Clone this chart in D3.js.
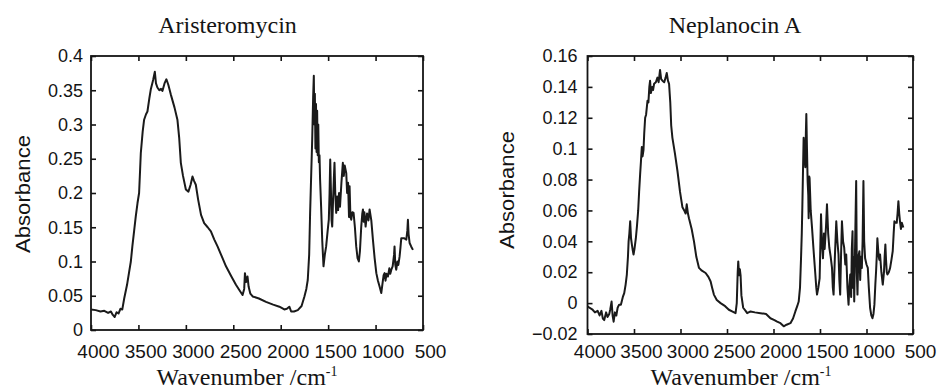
<!DOCTYPE html>
<html>
<head>
<meta charset="utf-8">
<script src="https://cdn.jsdelivr.net/npm/d3@7"></script>
<style>
  html, body { margin: 0; padding: 0; background: #fff; }
  svg { display: block; }
</style>
</head>
<body>
<svg id="chart" width="937" height="389"></svg>
<script>
// ---------------- DATA ----------------
const xTicks = [4000, 3500, 3000, 2500, 2000, 1500, 1000, 500];
const yTicksA = [0, 0.05, 0.1, 0.15, 0.2, 0.25, 0.3, 0.35, 0.4];
const yTicksB = [-0.02, 0, 0.02, 0.04, 0.06, 0.08, 0.1, 0.12, 0.14, 0.16];
const titleA = "Aristeromycin";
const titleB = "Neplanocin A";

// Aristeromycin spectrum: [wavenumber, absorbance]
const aristeromycin = [
[4000,0.030],[3950,0.029],[3900,0.027],[3860,0.028],[3820,0.025],[3790,0.027],[3770,0.022],[3750,0.019],
[3730,0.026],[3710,0.024],[3690,0.031],[3670,0.030],[3650,0.046],[3620,0.066],[3600,0.083],[3580,0.100],
[3564,0.122],[3545,0.145],[3528,0.166],[3510,0.185],[3493,0.200],[3482,0.235],[3475,0.258],[3455,0.290],
[3440,0.307],[3420,0.315],[3405,0.319],[3385,0.338],[3370,0.351],[3345,0.365],[3327,0.377],[3315,0.360],
[3300,0.354],[3280,0.350],[3262,0.352],[3247,0.349],[3225,0.360],[3205,0.366],[3185,0.358],[3159,0.344],
[3120,0.325],[3089,0.307],[3070,0.280],[3053,0.244],[3030,0.225],[3000,0.205],[2973,0.202],[2950,0.212],
[2930,0.224],[2915,0.218],[2895,0.212],[2870,0.190],[2840,0.168],[2807,0.156],[2770,0.150],[2736,0.144],
[2700,0.132],[2666,0.122],[2620,0.107],[2577,0.093],[2520,0.078],[2472,0.066],[2430,0.057],[2402,0.051],
[2385,0.060],[2377,0.083],[2365,0.070],[2350,0.078],[2338,0.063],[2320,0.053],[2296,0.049],[2230,0.046],
[2155,0.041],[2080,0.037],[2014,0.034],[1962,0.030],[1935,0.031],[1909,0.034],[1890,0.027],[1860,0.027],
[1820,0.029],[1780,0.035],[1750,0.049],[1730,0.060],[1715,0.073],[1700,0.110],[1690,0.171],[1678,0.230],
[1668,0.278],[1658,0.340],[1651,0.371],[1645,0.300],[1640,0.345],[1634,0.265],[1628,0.330],[1622,0.260],
[1616,0.320],[1610,0.255],[1604,0.300],[1598,0.245],[1591,0.255],[1585,0.220],[1574,0.180],[1562,0.130],
[1549,0.093],[1535,0.110],[1521,0.122],[1505,0.145],[1493,0.161],[1485,0.200],[1478,0.249],[1470,0.200],
[1464,0.160],[1457,0.151],[1448,0.190],[1440,0.220],[1433,0.244],[1425,0.200],[1415,0.171],[1405,0.195],
[1395,0.175],[1385,0.200],[1375,0.180],[1360,0.215],[1345,0.244],[1335,0.225],[1325,0.240],[1309,0.229],
[1300,0.200],[1290,0.215],[1280,0.165],[1274,0.210],[1265,0.165],[1256,0.161],[1245,0.172],[1232,0.171],
[1218,0.150],[1204,0.122],[1190,0.105],[1176,0.100],[1165,0.115],[1151,0.151],[1140,0.170],[1133,0.176],
[1125,0.158],[1118,0.172],[1105,0.151],[1090,0.170],[1075,0.160],[1063,0.176],[1045,0.160],[1028,0.132],
[1010,0.105],[992,0.083],[975,0.072],[957,0.063],[940,0.054],[925,0.070],[915,0.080],[905,0.083],
[895,0.072],[885,0.082],[870,0.078],[855,0.090],[845,0.082],[834,0.088],[820,0.093],[805,0.110],
[800,0.122],[792,0.095],[782,0.088],[770,0.100],[760,0.095],[747,0.107],[738,0.120],[729,0.134],
[700,0.134],[676,0.132],[665,0.145],[659,0.161],[652,0.140],[641,0.127],[625,0.122],[606,0.117]
];

// Neplanocin A spectrum: [wavenumber, absorbance]
const neplanocin = [
[4000,-0.002],[3980,-0.003],[3950,-0.004],[3920,-0.006],[3891,-0.005],[3870,-0.008],[3850,-0.005],[3835,-0.010],
[3820,-0.011],[3800,-0.006],[3785,-0.009],[3766,-0.007],[3755,-0.004],[3741,0.001],[3730,-0.008],[3719,-0.012],
[3705,-0.006],[3690,-0.008],[3676,-0.003],[3660,-0.001],[3641,-0.001],[3620,0.004],[3605,0.0065],[3590,0.012],
[3577,0.0185],[3565,0.030],[3558,0.040],[3550,0.045],[3541,0.053],[3532,0.042],[3523,0.038],[3513,0.034],
[3505,0.0315],[3495,0.035],[3480,0.042],[3468,0.050],[3455,0.060],[3445,0.072],[3434,0.0835],[3425,0.092],
[3416,0.101],[3408,0.095],[3398,0.099],[3390,0.110],[3380,0.120],[3370,0.122],[3355,0.131],[3345,0.130],
[3335,0.140],[3327,0.144],[3318,0.136],[3305,0.140],[3295,0.138],[3284,0.142],[3265,0.143],[3248,0.146],
[3235,0.143],[3220,0.151],[3208,0.145],[3194,0.144],[3175,0.143],[3160,0.146],[3148,0.149],[3135,0.144],
[3123,0.142],[3110,0.130],[3100,0.115],[3087,0.107],[3060,0.097],[3033,0.0857],[3005,0.072],[2979,0.062],
[2960,0.060],[2945,0.058],[2933,0.064],[2920,0.058],[2909,0.055],[2880,0.048],[2855,0.040],[2830,0.030],
[2801,0.0228],[2770,0.021],[2730,0.0195],[2700,0.017],[2676,0.014],[2660,0.010],[2641,0.0055],[2610,0.002],
[2569,0.000],[2520,-0.002],[2480,-0.0043],[2440,-0.0055],[2408,-0.0065],[2395,0.000],[2385,0.020],[2379,0.027],
[2370,0.018],[2362,0.022],[2354,0.018],[2345,0.005],[2326,-0.003],[2300,-0.005],[2283,-0.0065],[2247,-0.0054],
[2200,-0.006],[2140,-0.0065],[2080,-0.007],[2033,-0.0098],[1990,-0.011],[1961,-0.012],[1925,-0.013],[1890,-0.015],
[1860,-0.014],[1818,-0.013],[1790,-0.010],[1765,-0.0054],[1745,-0.002],[1729,0.001],[1715,0.010],[1704,0.029],
[1696,0.045],[1690,0.062],[1683,0.085],[1676,0.107],[1667,0.095],[1658,0.088],[1652,0.110],[1647,0.1225],
[1640,0.100],[1633,0.079],[1626,0.070],[1622,0.055],[1616,0.082],[1612,0.081],[1600,0.060],[1586,0.049],
[1570,0.035],[1550,0.0185],[1540,0.010],[1532,0.0055],[1518,0.010],[1504,0.016],[1497,0.035],[1489,0.0575],
[1480,0.040],[1468,0.029],[1458,0.045],[1450,0.035],[1443,0.042],[1435,0.050],[1425,0.064],[1412,0.045],
[1400,0.036],[1385,0.030],[1371,0.0228],[1362,0.010],[1354,0.0055],[1340,0.030],[1325,0.053],[1313,0.040],
[1301,0.0315],[1292,0.015],[1283,0.0055],[1274,0.030],[1264,0.053],[1252,0.040],[1240,0.036],[1228,0.025],
[1218,0.0315],[1205,0.010],[1193,-0.001],[1185,0.010],[1175,0.0185],[1165,0.004],[1158,0.035],[1150,0.0466],
[1145,0.010],[1138,0.030],[1132,0.001],[1122,0.040],[1111,0.079],[1104,0.020],[1097,0.0055],[1088,0.030],
[1076,0.0336],[1068,0.015],[1060,0.030],[1050,0.0228],[1042,0.040],[1033,0.079],[1025,0.040],[1015,0.029],
[1000,0.025],[986,0.0228],[975,0.010],[961,-0.0033],[948,-0.008],[936,-0.0098],[925,-0.007],[915,-0.001],
[905,0.012],[897,0.0206],[890,0.030],[883,0.042],[875,0.035],[868,0.030],[862,0.028],[854,0.0315],
[840,0.020],[825,0.012],[812,0.020],[805,0.030],[797,0.038],[790,0.028],[782,0.020],[775,0.0185],
[760,0.020],[746,0.0228],[732,0.028],[718,0.0336],[708,0.045],[700,0.053],[688,0.052],[675,0.052],
[666,0.058],[657,0.066],[648,0.058],[640,0.053],[630,0.048],[620,0.052],[604,0.049]
];

// ---------------- DRAW ----------------
const svg = d3.select("#chart");
const sans = "'Liberation Sans', Arial, Helvetica, sans-serif";
const serif = "'Liberation Serif', 'Times New Roman', serif";
const ink = "#141414";

function panel(cfg) {
  const x = d3.scaleLinear().domain([4000, 500]).range([cfg.left, cfg.right]);
  const y = d3.scaleLinear().domain(cfg.yDomain).range([cfg.bottom, cfg.top]);
  const g = svg.append("g");

  // bottom axis (labels)
  const gb = g.append("g").attr("transform", `translate(0,${cfg.bottom})`)
    .call(d3.axisBottom(x).tickValues(xTicks).tickFormat(d3.format("d"))
      .tickSizeInner(-5).tickSizeOuter(0).tickPadding(cfg.xPad));
  gb.selectAll("text").attr("font-size", 19).attr("font-family", sans)
    .attr("fill", ink).attr("dx", 7);
  // top axis (ticks only)
  const gt = g.append("g").attr("transform", `translate(0,${cfg.top})`)
    .call(d3.axisTop(x).tickValues(xTicks).tickFormat("").tickSizeInner(-5).tickSizeOuter(0));
  // left axis
  const gl = g.append("g").attr("transform", `translate(${cfg.left},0)`)
    .call(d3.axisLeft(y).tickValues(cfg.yTicks).tickFormat(d => d3.format("")(+d.toFixed(3)))
      .tickSizeInner(-5).tickSizeOuter(0).tickPadding(cfg.yPad));
  gl.selectAll("text").attr("font-size", 18).attr("font-family", sans).attr("fill", ink);
  // right axis (ticks only)
  const gr = g.append("g").attr("transform", `translate(${cfg.right},0)`)
    .call(d3.axisRight(y).tickValues(cfg.yTicks).tickFormat("").tickSizeInner(-5).tickSizeOuter(0));

  [gb, gt, gl, gr].forEach(a => {
    a.select(".domain").remove();
    a.selectAll(".tick line").attr("stroke", ink).attr("stroke-width", 1.6);
  });

  // frame
  g.append("rect")
    .attr("x", cfg.left).attr("y", cfg.top)
    .attr("width", cfg.right - cfg.left).attr("height", cfg.bottom - cfg.top)
    .attr("fill", "none").attr("stroke", ink).attr("stroke-width", 1.8);

  // spectrum
  const line = d3.line().x(d => x(d[0])).y(d => y(d[1]));
  g.append("path").datum(cfg.data)
    .attr("d", line).attr("fill", "none")
    .attr("stroke", "#1a1a1a").attr("stroke-width", 2)
    .attr("stroke-linejoin", "round");

  // title
  g.append("text").attr("x", cfg.titleX).attr("y", 33)
    .attr("text-anchor", "middle").attr("font-family", serif).attr("font-size", 24)
    .attr("fill", ink).text(cfg.title);

  // y label
  g.append("text")
    .attr("transform", `translate(${cfg.yLabelX},${cfg.yLabelY}) rotate(-90)`)
    .attr("text-anchor", "middle").attr("dominant-baseline", "central")
    .attr("font-family", sans).attr("font-size", 21).attr("fill", ink)
    .attr("textLength", 118).attr("lengthAdjust", "spacingAndGlyphs")
    .text("Absorbance");

  // x label
  const xl = g.append("text").attr("x", cfg.xLabelX).attr("y", 385)
    .attr("text-anchor", "middle").attr("font-family", serif).attr("font-size", 24)
    .attr("fill", ink);
  xl.append("tspan").text("Wavenumber /cm");
  xl.append("tspan").attr("font-size", 14).attr("dy", -9).text("-1");
}

panel({
  left: 91, right: 423, top: 56, bottom: 330,
  yDomain: [0, 0.4], yTicks: yTicksA, data: aristeromycin,
  xPad: 15, yPad: 8, title: titleA, titleX: 227.5,
  yLabelX: 22, yLabelY: 194, xLabelX: 247
});
panel({
  left: 587.5, right: 913, top: 56, bottom: 334,
  yDomain: [-0.02, 0.16], yTicks: yTicksB, data: neplanocin,
  xPad: 11, yPad: 10, title: titleB, titleX: 735,
  yLabelX: 506.5, yLabelY: 190, xLabelX: 741
});
</script>
</body>
</html>
